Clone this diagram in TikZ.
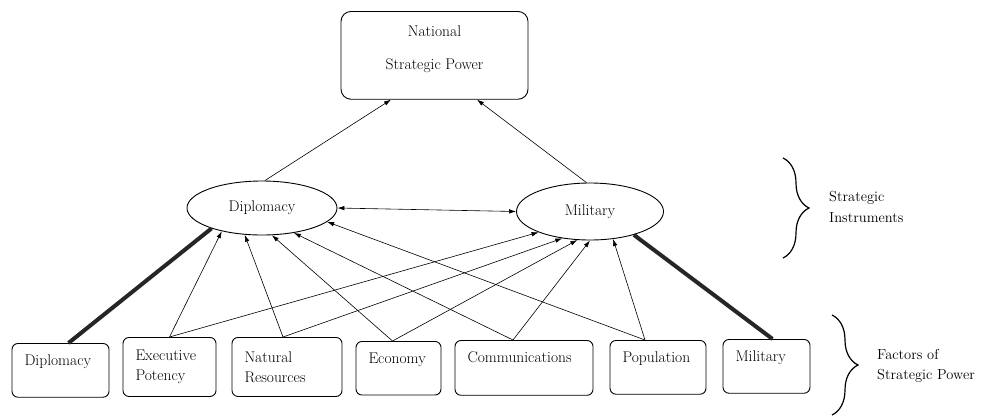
\documentclass[tikz,border=0pt]{standalone}
\usetikzlibrary{shapes.geometric,arrows.meta,decorations.pathreplacing}

\tikzset{
  factor/.style={draw, line width=0.9pt, rounded corners=6pt, anchor=north,
    inner xsep=12.5pt, inner ysep=11pt, align=left},
  instr/.style={draw, ellipse, line width=0.9pt, inner sep=0pt},
  side/.style={anchor=west, align=left, inner sep=0pt, font=\fontsize{14.5}{20.5}\selectfont},
  arr/.style={-{Latex[length=7pt,width=4.5pt]}, line width=0.6pt},
  both/.style={{Latex[length=7pt,width=4.5pt]}-{Latex[length=7pt,width=4.5pt]}, line width=0.6pt},
  link/.style={line width=4pt, black!85},
  brace/.style={decorate, decoration={brace, amplitude=26pt}, line width=1.2pt},
}

\begin{document}
\begin{tikzpicture}[x=1pt, y=-1pt, font=\fontsize{15.5}{20}\selectfont]
\useasboundingbox (0,0) rectangle (982,416);

% top box
\node[draw, line width=0.9pt, rounded corners=10pt, anchor=north, minimum width=187pt,
  inner ysep=14pt, text depth=16pt, align=center] (nat) at (434.5,11)
  {National\\[13pt]Strategic Power};

% strategic instruments
\node[instr, minimum width=150pt, minimum height=54pt] (dip) at (262,208) {Diplomacy};
\node[instr, minimum width=147pt, minimum height=57pt] (mil) at (590,211.5) {Military};

% factors of strategic power
\node[factor, text width=72pt, text depth=21pt] (fdip) at (60.5,343) {Diplomacy};
\node[factor, text width=68pt, minimum height=59pt] (fexec) at (169.5,337) {Executive\\Potency};
\node[factor, text width=85pt, minimum height=59pt] (fnat) at (287,337) {Natural\\Resources};
\node[factor, text width=60pt, text depth=21pt] (feco) at (398.5,341) {Economy};
\node[factor, text width=113pt, text depth=22pt] (fcom) at (524,340) {Communications};
\node[factor, text width=71pt, text depth=21pt] (fpop) at (658,340) {Population};
\node[factor, text width=62pt, text depth=21pt] (fmil) at (766.5,339) {Military};

% instruments -> power
\draw[arr] (dip.84) -- ([xshift=-43.5pt]nat.south);
\draw[arr] (mil.97) -- ([xshift=42.5pt]nat.south);
\draw[both] (dip.east) -- (mil.west);

% thick links
\draw[link] ([xshift=8pt]fdip.north) -- (dip.202);
\draw[link] ([xshift=6pt]fmil.north) -- (mil.332);

% factors -> instruments
\draw[arr] (fexec.north) -- (dip.210);
\draw[arr] (fexec.north) -- (mil.202);
\draw[arr] ([xshift=-4pt]fnat.north) -- (dip.237);
\draw[arr] ([xshift=-4pt]fnat.north) -- (mil.224);
\draw[arr] ([xshift=-6pt]feco.north) -- (dip.290);
\draw[arr] ([xshift=-6pt]feco.north) -- (mil.246);
\draw[arr] ([xshift=-11pt]fcom.north) -- (dip.322);
\draw[arr] ([xshift=-11pt]fcom.north) -- (mil.270);
\draw[arr] ([xshift=-13pt]fpop.north) -- (dip.348);
\draw[arr] ([xshift=-13pt]fpop.north) -- (mil.310);

% braces and labels
\draw[brace] (783,158) -- (783,258);
\node[side] (linstr) at (829,207) {Strategic\\Instruments};
\draw[brace] (832,315) -- (832,415);
\node[side] (lfact) at (877,366) {Factors of\\Strategic Power};

\end{tikzpicture}
\end{document}
